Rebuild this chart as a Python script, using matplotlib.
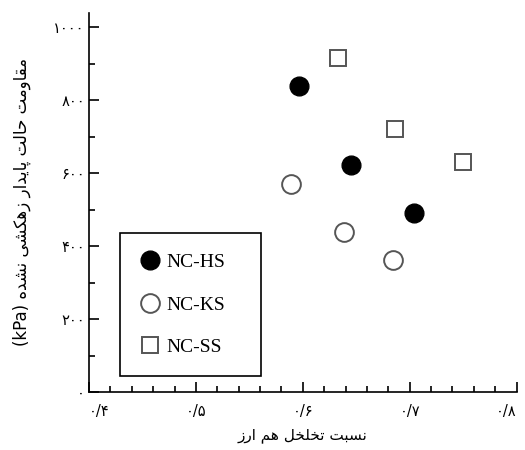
import matplotlib
matplotlib.use('Agg')
import matplotlib.pyplot as plt
from matplotlib.ticker import MultipleLocator, FixedLocator

# data (void ratio vs undrained steady-state strength)
hs_x = [0.596, 0.645, 0.704]
hs_y = [838, 621, 490]
ks_x = [0.589, 0.639, 0.684]
ks_y = [569, 440, 361]
ss_x = [0.633, 0.686, 0.750]
ss_y = [916, 720, 630]

x_ticks = [0.4, 0.5, 0.6, 0.7, 0.8]
y_ticks = [0, 200, 400, 600, 800, 1000]

x_title = 'نسبت تخلخل هم ارز'
y_title = 'مقاومت حالت پایدار زهکشی نشده'

# matplotlib has no bidi/shaping, so join the letters by hand
FORMS = {
    'ا': ('\uFE8D', '\uFE8E', None, None),
    'ب': ('\uFE8F', '\uFE90', '\uFE91', '\uFE92'),
    'پ': ('\uFB56', '\uFB57', '\uFB58', '\uFB59'),
    'ت': ('\uFE95', '\uFE96', '\uFE97', '\uFE98'),
    'ح': ('\uFEA1', '\uFEA2', '\uFEA3', '\uFEA4'),
    'خ': ('\uFEA5', '\uFEA6', '\uFEA7', '\uFEA8'),
    'د': ('\uFEA9', '\uFEAA', None, None),
    'ر': ('\uFEAD', '\uFEAE', None, None),
    'ز': ('\uFEAF', '\uFEB0', None, None),
    'س': ('\uFEB1', '\uFEB2', '\uFEB3', '\uFEB4'),
    'ش': ('\uFEB5', '\uFEB6', '\uFEB7', '\uFEB8'),
    'ق': ('\uFED5', '\uFED6', '\uFED7', '\uFED8'),
    'ک': ('\uFB8E', '\uFB8F', '\uFB90', '\uFB91'),
    'ل': ('\uFEDD', '\uFEDE', '\uFEDF', '\uFEE0'),
    'م': ('\uFEE1', '\uFEE2', '\uFEE3', '\uFEE4'),
    'ن': ('\uFEE5', '\uFEE6', '\uFEE7', '\uFEE8'),
    'ه': ('\uFEE9', '\uFEEA', '\uFEEB', '\uFEEC'),
    'و': ('\uFEED', '\uFEEE', None, None),
    'ی': ('\uFBFC', '\uFBFD', '\uFBFE', '\uFBFF'),
}


def fa(text):
    out = []
    for i, ch in enumerate(text):
        if ch not in FORMS:
            out.append(ch)
            continue
        prev = text[i - 1] if i > 0 else ''
        nxt = text[i + 1] if i + 1 < len(text) else ''
        join_prev = prev in FORMS and FORMS[prev][2] is not None
        join_next = nxt in FORMS and FORMS[ch][2] is not None
        iso, fin, ini, med = FORMS[ch]
        if join_prev and join_next:
            out.append(med)
        elif join_prev:
            out.append(fin)
        elif join_next:
            out.append(ini)
        else:
            out.append(iso)
    return ''.join(reversed(out))


def fa_num(s):
    return s.translate(str.maketrans('0123456789.', '۰۱۲۳۴۵۶۷۸۹/'))


plt.rcParams['font.family'] = ['DejaVu Sans']

fig = plt.figure(figsize=(5.25, 4.5), dpi=100)
ax = fig.add_axes([0.1695, 0.1289, 0.8145, 0.843])

ax.plot(hs_x, hs_y, marker='o', color='black', label='NC-HS',
        linestyle='none', markersize=13.5)
ax.plot(ks_x, ks_y, marker='o', markerfacecolor='white', markeredgecolor='#555555',
        markeredgewidth=1.4, label='NC-KS', linestyle='none', markersize=13.5)
ax.plot(ss_x, ss_y, marker='s', markerfacecolor='white', markeredgecolor='#555555',
        markeredgewidth=1.4, label='NC-SS', linestyle='none', markersize=12)

ax.set_xlim(0.4, 0.8)
ax.set_ylim(0, 1040)

ax.spines['top'].set_visible(False)
ax.spines['right'].set_visible(False)
for s in ['left', 'bottom']:
    ax.spines[s].set_linewidth(1.2)

ax.xaxis.set_major_locator(FixedLocator(x_ticks))
ax.xaxis.set_minor_locator(MultipleLocator(0.02))
ax.yaxis.set_major_locator(FixedLocator(y_ticks))
ax.yaxis.set_minor_locator(MultipleLocator(100))
ax.set_xticklabels([fa_num(f'{v:.1f}') for v in x_ticks])
ax.set_yticklabels([fa_num(str(v)) for v in y_ticks])

ax.tick_params(which='major', direction='in', length=7.5, width=1.2, labelsize=10.5)
ax.tick_params(which='minor', direction='in', length=4.5, width=1.2)
ax.tick_params(axis='x', pad=9)
ax.tick_params(axis='y', pad=3)

# end labels sit inside the axis span in the reference
xt = ax.get_xticklabels()
xt[0].set_ha('left')
xt[-1].set_ha('right')

ax.set_xlabel(fa(x_title), fontsize=11, labelpad=6)
ax.set_ylabel('(kPa) ' + fa(y_title), fontsize=12, labelpad=16)

leg = ax.legend(loc='lower left', bbox_to_anchor=(0.0725, 0.042, 0.33, 0.378),
                mode='expand', borderaxespad=0,
                prop={'family': 'Liberation Serif', 'size': 14},
                frameon=True, fancybox=False, edgecolor='black',
                borderpad=1.03, labelspacing=1.28, handlelength=1.07,
                handletextpad=0.27)
leg.get_frame().set_linewidth(1.2)
leg.get_frame().set_alpha(1)

plt.savefig('out.png', dpi=100)
